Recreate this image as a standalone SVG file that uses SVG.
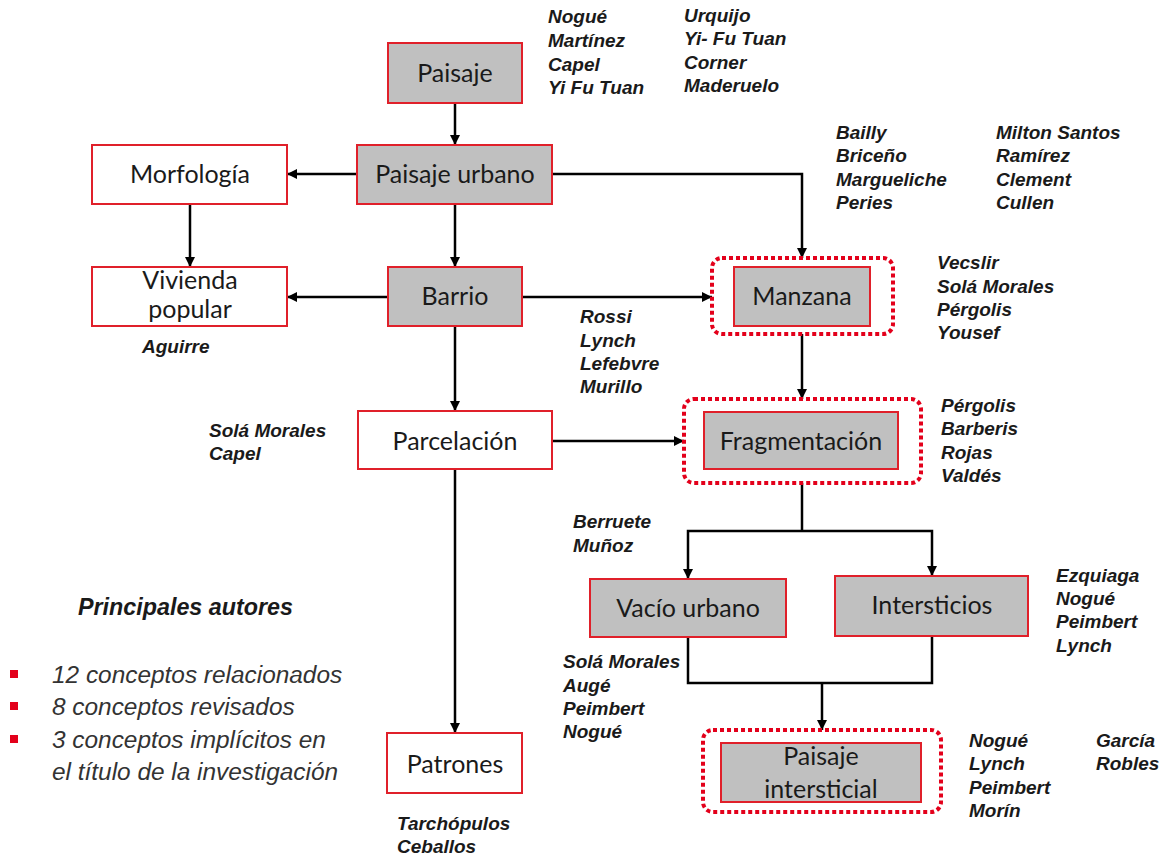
<svg xmlns="http://www.w3.org/2000/svg" width="1164" height="858" viewBox="0 0 1164 858">
<defs>
<marker id="ah" viewBox="0 0 10 10" refX="10" refY="5" markerWidth="10" markerHeight="10" markerUnits="userSpaceOnUse" orient="auto">
<path d="M0,0 L10,5 L0,10 z" fill="#000"/>
</marker>
<style>
.g{fill:#c0c0c0;stroke:#e0202a;stroke-width:2}
.w{fill:#fff;stroke:#e0202a;stroke-width:2}
.dot{fill:none;stroke:#e3001b;stroke-width:4;stroke-dasharray:4 3}
.n{font-family:Lato,"Open Sans",sans-serif;font-size:25px;fill:#1a1a1a;text-anchor:middle}
.a{font-family:"Liberation Sans",Arial,sans-serif;font-size:19px;font-weight:bold;font-style:italic;fill:#1a1a1a}
.l{font-family:"Liberation Sans",Arial,sans-serif;font-size:24.4px;font-style:italic;fill:#333}
.c{fill:none;stroke:#000;stroke-width:2.5}
.ca{fill:none;stroke:#000;stroke-width:2.5;marker-end:url(#ah)}
</style>
</defs>
<rect width="1164" height="858" fill="#fff"/>

<g id="connectors">
<path class="ca" d="M455,103 V145"/>
<path class="ca" d="M357,174 H287"/>
<path class="ca" d="M190,204 V267"/>
<path class="ca" d="M455,204 V267"/>
<path class="ca" d="M388,297 H287"/>
<path class="ca" d="M552,174 H802 V258"/>
<path class="ca" d="M522,297 H712"/>
<path class="ca" d="M455,326 V411"/>
<path class="ca" d="M802,334 V399"/>
<path class="ca" d="M552,441 H684"/>
<path class="ca" d="M455,469 V733"/>
<path class="c" d="M802,483 V531"/>
<path class="ca" d="M802,531 H688 V579"/>
<path class="ca" d="M802,531 H932 V576"/>
<path class="c" d="M688,637 V683 H932 V636"/>
<path class="ca" d="M822,683 V730"/>
</g>

<g id="paisaje"><rect class="g" x="388" y="43" width="134" height="60"/><text class="n" x="455" y="82">Paisaje</text></g>
<g id="paisaje-urbano"><rect class="g" x="357" y="145" width="195" height="59"/><text class="n" x="455" y="183">Paisaje urbano</text></g>
<g id="morfologia"><rect class="w" x="92" y="145" width="195" height="59"/><text class="n" x="190" y="183">Morfología</text></g>
<g id="vivienda-popular"><rect class="w" x="92" y="267" width="195" height="59"/><text class="n" x="190" y="289">Vivienda</text><text class="n" x="190" y="318">popular</text></g>
<g id="barrio"><rect class="g" x="388" y="267" width="134" height="59"/><text class="n" x="455" y="305">Barrio</text></g>
<g id="manzana"><rect class="dot" x="712" y="258" width="181" height="76" rx="10"/><rect class="g" x="734" y="267" width="136" height="59"/><text class="n" x="802" y="305">Manzana</text></g>
<g id="parcelacion"><rect class="w" x="358" y="411" width="194" height="58"/><text class="n" x="455" y="450">Parcelación</text></g>
<g id="fragmentacion"><rect class="dot" x="684" y="399" width="237" height="84" rx="10"/><rect class="g" x="704" y="412" width="194" height="57"/><text class="n" x="801" y="450">Fragmentación</text></g>
<g id="vacio-urbano"><rect class="g" x="590" y="579" width="196" height="58"/><text class="n" x="688" y="617">Vacío urbano</text></g>
<g id="intersticios"><rect class="g" x="835" y="576" width="193" height="60"/><text class="n" x="932" y="614">Intersticios</text></g>
<g id="paisaje-intersticial"><rect class="dot" x="703" y="730" width="238" height="82" rx="10"/><rect class="g" x="721" y="743" width="200" height="59"/><text class="n" x="821" y="765">Paisaje</text><text class="n" x="821" y="798">intersticial</text></g>
<g id="patrones"><rect class="w" x="387" y="733" width="135" height="60"/><text class="n" x="455" y="773">Patrones</text></g>

<g id="autores">
<text class="a" x="548" y="23">Nogué</text><text class="a" x="548" y="47">Martínez</text><text class="a" x="548" y="71">Capel</text><text class="a" x="548" y="94">Yi Fu Tuan</text>
<text class="a" x="684" y="22">Urquijo</text><text class="a" x="684" y="45">Yi- Fu Tuan</text><text class="a" x="684" y="69">Corner</text><text class="a" x="684" y="92">Maderuelo</text>
<text class="a" x="836" y="139">Bailly</text><text class="a" x="836" y="162">Briceño</text><text class="a" x="836" y="186">Margueliche</text><text class="a" x="836" y="209">Peries</text>
<text class="a" x="996" y="139">Milton Santos</text><text class="a" x="996" y="162">Ramírez</text><text class="a" x="996" y="186">Clement</text><text class="a" x="996" y="209">Cullen</text>
<text class="a" x="937" y="269">Vecslir</text><text class="a" x="937" y="293">Solá Morales</text><text class="a" x="937" y="316">Pérgolis</text><text class="a" x="937" y="339">Yousef</text>
<text class="a" x="142" y="353">Aguirre</text>
<text class="a" x="580" y="323">Rossi</text><text class="a" x="580" y="347">Lynch</text><text class="a" x="580" y="370">Lefebvre</text><text class="a" x="580" y="393">Murillo</text>
<text class="a" x="209" y="437">Solá Morales</text><text class="a" x="209" y="460">Capel</text>
<text class="a" x="941" y="412">Pérgolis</text><text class="a" x="941" y="435">Barberis</text><text class="a" x="941" y="459">Rojas</text><text class="a" x="941" y="482">Valdés</text>
<text class="a" x="573" y="528">Berruete</text><text class="a" x="573" y="552">Muñoz</text>
<text class="a" x="1056" y="582">Ezquiaga</text><text class="a" x="1056" y="605">Nogué</text><text class="a" x="1056" y="628">Peimbert</text><text class="a" x="1056" y="652">Lynch</text>
<text class="a" x="563" y="668">Solá Morales</text><text class="a" x="563" y="692">Augé</text><text class="a" x="563" y="715">Peimbert</text><text class="a" x="563" y="738">Nogué</text>
<text class="a" x="969" y="747">Nogué</text><text class="a" x="969" y="770">Lynch</text><text class="a" x="969" y="794">Peimbert</text><text class="a" x="969" y="817">Morín</text>
<text class="a" x="1096" y="747">García</text><text class="a" x="1096" y="770">Robles</text>
<text class="a" x="397" y="830">Tarchópulos</text><text class="a" x="397" y="853">Ceballos</text>
</g>

<g id="leyenda">
<text class="a" x="78" y="615" style="font-size:23.3px">Principales autores</text>
<rect x="10" y="670" width="8" height="8" fill="#e3001b"/>
<rect x="10" y="702" width="8" height="8" fill="#e3001b"/>
<rect x="10" y="735" width="8" height="8" fill="#e3001b"/>
<text class="l" x="52" y="683">12 conceptos relacionados</text>
<text class="l" x="52" y="715">8 conceptos revisados</text>
<text class="l" x="52" y="748">3 conceptos implícitos en</text>
<text class="l" x="52" y="780">el título de la investigación</text>
</g>
</svg>
